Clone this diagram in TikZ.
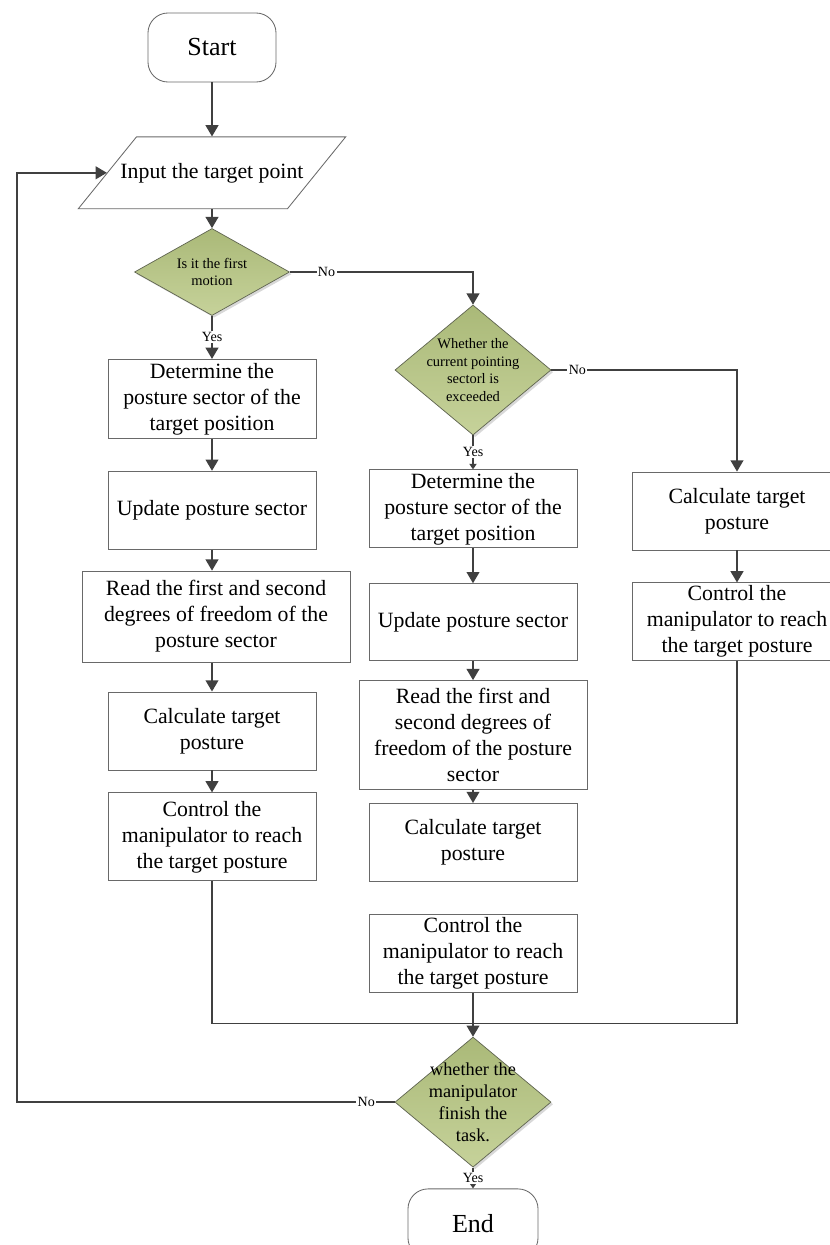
\documentclass[tikz,border=0pt]{standalone}
\usepackage{fontspec}
\setmainfont{Liberation Serif}
\usepackage{tikz}
\usetikzlibrary{shapes.geometric,arrows.meta,positioning,shadows}
\definecolor{linegray}{RGB}{64,64,64}
\definecolor{framegray}{RGB}{105,105,105}
\definecolor{dectop}{RGB}{170,185,120}
\definecolor{decbot}{RGB}{198,210,154}
\definecolor{decframe}{RGB}{95,100,80}
\tikzset{
  fc_term/.style={rectangle,rounded corners=0.5cm,
    draw=framegray,line width=0.6pt,fill=white,
    minimum width=3.2cm,minimum height=1.725cm,
    font=\fontsize{18.5}{22}\selectfont},
  fc_io/.style={trapezium,trapezium left angle=51,trapezium right angle=129,
    draw=framegray,line width=0.6pt,fill=white,
    inner xsep=-0.4cm,inner ysep=0.65cm,
    font=\fontsize{15.5}{18.5}\selectfont},
  fc_proc/.style={rectangle,
    draw=framegray,line width=0.6pt,fill=white,
    align=center,inner sep=2pt,
    minimum width=5.2cm,minimum height=1.95cm,
    font=\fontsize{15.5}{18.5}\selectfont},
  fc_dec/.style={diamond,
    draw=decframe,line width=0.5pt,
    top color=dectop,bottom color=decbot,
    drop shadow={opacity=0.3,shadow xshift=1.5pt,shadow yshift=-1.5pt},
    align=center,inner sep=-8pt,
    font=\fontsize{10.3}{12.4}\selectfont},
  fc_lbl/.style={fill=white,inner sep=1pt,
    font=\fontsize{10}{12}\selectfont},
  arr/.style={-{Triangle[length=2.8mm,width=3.2mm]},line width=1pt,draw=linegray},
  arr_small/.style={-{Triangle[length=1.4mm,width=1.8mm]},line width=1pt,draw=linegray},
  flow/.style={line width=1pt,draw=linegray},
}

\begin{document}
\begin{tikzpicture}[x=0.025cm,y=0.025cm]
  \fill[white] (0,0) rectangle (830,-1245);
  \useasboundingbox (0,0) rectangle (830,-1245);
  \clip (0,0) rectangle (830,-1245);

  \node (start) [fc_term] at (212,-47.5) {Start};
  \node (inp) [fc_io, below=1.35cm of start] {Input the target point};
  \node (d1) [fc_dec, aspect=1.78, minimum width=3.875cm, minimum height=2.175cm,
    below=0.475cm of inp] {Is it the first\\ motion};
  % first motion branch
  \node (lb1) [fc_proc, minimum height=1.975cm, below=1.075cm of d1]
    {Determine the\\ posture sector of the\\ target position};
  \node (lb2) [fc_proc, below=0.8cm of lb1] {Update posture sector};
  \node (lb3) [fc_proc, minimum width=6.7cm, minimum height=2.275cm,
    below=0.525cm of lb2, xshift=0.1cm]
    {Read the first and second\\ degrees of freedom of the\\ posture sector};
  \node (lb4) [fc_proc, below=0.725cm of lb3, xshift=-0.1cm]
    {Calculate target\\ posture};
  \node (lb5) [fc_proc, minimum height=2.2cm, below=0.55cm of lb4]
    {Control the\\ manipulator to reach\\ the target posture};
  % sector check branch
  \node (d2) [fc_dec, aspect=1.2, minimum width=3.9cm, minimum height=3.25cm]
    at (473,-370) {Whether the\\ current pointing\\ sectorl is\\ exceeded};
  \node (mb1) [fc_proc, below=0.85cm of d2]
    {Determine the\\ posture sector of the\\ target position};
  \node (mb2) [fc_proc, minimum height=1.925cm, below=0.875cm of mb1]
    {Update posture sector};
  \node (mb3) [fc_proc, minimum width=5.7cm, minimum height=2.725cm,
    below=0.475cm of mb2]
    {Read the first and\\ second degrees of\\ freedom of the posture\\ sector};
  \node (mb4) [fc_proc, below=0.325cm of mb3] {Calculate target\\ posture};
  \node (mb5) [fc_proc, below=0.8cm of mb4]
    {Control the\\ manipulator to reach\\ the target posture};
  % same sector branch
  \node (rb1) [fc_proc, minimum width=5.25cm] at (737,-511)
    {Calculate target\\ posture};
  \node (rb2) [fc_proc, minimum width=5.25cm, minimum height=1.925cm,
    below=0.8cm of rb1]
    {Control the\\ manipulator to reach\\ the target posture};
  % task check
  \node (d3) [fc_dec, aspect=1.2, minimum width=3.9cm, minimum height=3.25cm,
    font=\fontsize{13}{15.6}\selectfont, below=1.1cm of mb5]
    {whether the\\ manipulator\\ finish the\\ task.};
  \node (end) [fc_term, minimum width=3.25cm, below=0.525cm of d3] {End};

  \coordinate (jn) at ([yshift=0.325cm]d3.north);
  \coordinate (back) at (17,0);

  \draw[arr] (start) -- (start |- inp.north);
  \draw[arr] (inp.south) -- (d1.north);
  \draw[arr] (d1) -- node[fc_lbl]{Yes} (lb1);
  \draw[arr] (lb1) -- (lb2);
  \draw[arr] (lb2.south) -- (lb2.south |- lb3.north);
  \draw[arr] (lb4.north |- lb3.south) -- (lb4.north);
  \draw[arr] (lb4) -- (lb5);
  \draw[arr] (d1.east) -| node[fc_lbl,pos=0.1]{No} (d2.north);
  \draw[arr_small] (d2) -- node[fc_lbl]{Yes} (mb1);
  \draw[arr] (mb1) -- (mb2);
  \draw[arr] (mb2) -- (mb3);
  \draw[arr] (mb3) -- (mb4);
  \draw[arr] (d2.east) -| node[fc_lbl,pos=0.07]{No} (rb1.north);
  \draw[arr] (rb1) -- (rb2);
  \draw[flow] (lb5.south) |- (jn) -| (rb2.south);
  \draw[arr] (mb5) -- (d3);
  \draw[arr] (d3.west) -- node[fc_lbl,pos=0.075]{No} (d3.west -| back)
    |- (inp.left side);
  \draw[arr_small] (d3) -- node[fc_lbl]{Yes} (end);
\end{tikzpicture}
\end{document}
